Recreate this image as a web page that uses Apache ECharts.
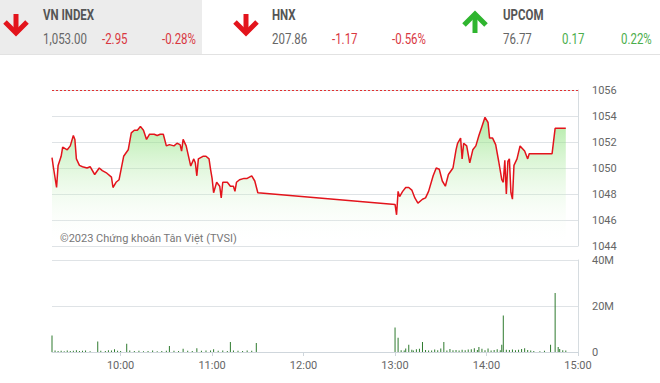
<!DOCTYPE html>
<html><head><meta charset="utf-8">
<script src="https://cdn.jsdelivr.net/npm/echarts@6/dist/echarts.min.js"></script>
<style>html,body{margin:0;padding:0;background:#fff}#c{width:660px;height:383px}</style>
</head><body><div id="c"></div>
<script>
// ---- header data ----
const indexNames = ["VN INDEX", "HNX", "UPCOM"];
const indexValues = ["1,053.00", "207.86", "76.77"];
const indexChanges = ["-2.95", "-1.17", "0.17"];
const indexPercents = ["-0.28%", "-0.56%", "0.22%"];

// ---- price data (VN-Index intraday) ----
const priceTimes = ["09:15","09:16","09:18","09:19","09:21","09:22","09:25","09:27","09:29","09:30","09:31","09:33","09:35","09:38","09:40","09:43","09:46","09:48","09:51","09:54","09:55","09:57","09:59","10:02","10:05","10:07","10:09","10:11","10:13","10:15","10:17","10:19","10:22","10:24","10:26","10:28","10:30","10:32","10:35","10:37","10:39","10:40","10:41","10:43","10:46","10:48","10:49","10:50","10:51","10:54","10:56","10:58","10:59","11:00","11:01","11:03","11:05","11:06","11:07","11:10","11:12","11:14","11:15","11:16","11:18","11:21","11:23","11:26","11:28","11:30","13:00","13:01","13:02","13:03","13:05","13:07","13:09","13:11","13:13","13:15","13:18","13:20","13:22","13:25","13:27","13:29","13:31","13:33","13:35","13:38","13:40","13:41","13:43","13:44","13:45","13:47","13:49","13:51","13:53","13:55","13:57","13:59","14:01","14:02","14:04","14:06","14:08","14:10","14:11","14:12","14:13","14:14","14:15","14:16","14:17","14:18","14:20","14:22","14:25","14:27","14:28","14:43","14:45","14:52"];
const priceValues = [1050.8,1050.0,1048.5,1050.2,1050.9,1051.6,1051.4,1051.7,1052.5,1052.2,1050.7,1050.2,1050.1,1050.0,1050.1,1049.5,1050.0,1049.8,1049.6,1049.3,1048.5,1048.9,1049.1,1050.9,1051.4,1052.7,1052.9,1052.9,1053.2,1052.9,1052.2,1052.6,1052.6,1052.5,1052.6,1052.6,1051.7,1051.8,1051.7,1051.9,1051.8,1051.3,1052.2,1051.7,1050.15,1050.7,1050.4,1049.4,1050.7,1050.9,1050.9,1050.7,1049.9,1049.2,1048.1,1048.9,1048.6,1047.7,1048.9,1048.9,1048.6,1048.6,1048.2,1048.9,1049.1,1049.2,1049.2,1049.4,1049.0,1048.1,1047.2,1046.4,1048.2,1047.8,1048.2,1048.5,1048.5,1048.3,1047.7,1047.3,1047.6,1047.7,1048.2,1049.4,1050.0,1049.9,1049.0,1048.6,1049.5,1050.0,1051.4,1051.9,1052.3,1050.7,1051.9,1051.7,1050.4,1051.4,1051.7,1052.5,1053.2,1053.9,1053.5,1052.3,1052.3,1051.8,1050.5,1049.1,1048.9,1050.6,1048.0,1050.5,1050.7,1048.1,1047.6,1050.2,1050.7,1051.7,1051.3,1050.7,1051.1,1051.1,1053.05,1053.05];
const prevClose = 1055.95;

// ---- volume data (millions of shares) ----
const volTimes = ["09:15","09:17","09:19","09:21","09:23","09:25","09:27","09:29","09:31","09:33","09:35","09:37","09:40","09:45","09:47","09:50","09:52","09:54","09:56","09:58","10:00","10:04","10:06","10:09","10:12","10:15","10:18","10:21","10:24","10:27","10:30","10:32","10:35","10:38","10:41","10:44","10:47","10:50","10:53","10:56","10:59","11:01","11:04","11:07","11:10","11:12","11:14","11:17","11:20","11:23","11:26","11:29","13:00","13:02","13:04","13:06","13:07","13:09","13:11","13:12","13:14","13:16","13:18","13:20","13:22","13:24","13:26","13:28","13:30","13:32","13:34","13:36","13:38","13:40","13:42","13:44","13:46","13:48","13:50","13:52","13:54","13:55","13:57","13:59","14:01","14:03","14:05","14:07","14:09","14:10","14:11","14:13","14:15","14:17","14:19","14:21","14:23","14:25","14:27","14:29","14:31","14:35","14:38","14:42","14:45","14:47","14:48","14:50","14:52"];
const volValues = [7.2,0.6,0.4,0.5,0.3,0.6,0.4,0.5,0.8,0.4,0.5,0.6,0.3,4.6,0.5,0.4,0.8,0.6,1.2,0.5,0.4,3.6,0.6,0.4,0.5,0.3,0.4,0.6,0.3,0.4,0.5,2.6,0.5,0.4,1.4,0.5,0.4,1.6,0.5,0.7,0.6,1.2,0.5,0.6,0.4,4.3,0.6,0.5,0.4,0.6,0.5,3.9,10.6,6.2,0.8,0.6,1.5,3.2,1.0,0.7,1.2,1.4,4.4,0.9,0.7,0.6,1.1,0.8,1.5,4.4,0.6,1.3,0.8,0.9,0.7,1.0,0.8,1.1,1.2,1.6,0.9,2.2,1.4,0.8,1.5,0.7,0.9,1.2,0.8,3.2,15.9,1.0,0.9,1.1,0.8,1.0,1.3,1.6,0.9,0.6,0.4,0.3,0.5,3.2,25.7,2.2,1.3,0.8,0.6];

// ---- axes ----
const timeTicks = ["10:00","11:00","12:00","13:00","14:00","15:00"];
const priceTicks = [1044,1046,1048,1050,1052,1054,1056];
const volTicks = [0,20,40];
const timeStart = "09:15", timeEnd = "15:00";
const watermark = "©2023 Chứng khoán Tân Việt (TVSI)";

function toMin(s){const p=s.split(":");return (+p[0])*60+(+p[1]);}
function fmtMin(m){const h=Math.floor(m/60),mm=m%60;return (h<10?"0":"")+h+":"+(mm<10?"0":"")+mm;}

const priceData = priceTimes.map((t,i)=>[toMin(t),priceValues[i]]);
const volData = volTimes.map((t,i)=>[toMin(t),volValues[i]]);
const tickMins = timeTicks.map(toMin);

const FONT = "Roboto, 'Noto Sans', sans-serif";
const RED = "#e3141c", GREEN = "#2fb52f";

function arrow(cx, top, bottom, up, color){
  const w = 11, h = 11;
  const pts = up ? [[cx-w,top+h],[cx,top],[cx+w,top+h]] : [[cx-w,bottom-h],[cx,bottom],[cx+w,bottom-h]];
  return [
    {type:'polyline', shape:{points:[[cx, up?top+3:top],[cx, up?bottom:bottom-3]]}, style:{stroke:color, lineWidth:5, fill:null}},
    {type:'polyline', shape:{points:pts}, style:{stroke:color, lineWidth:5, fill:null, lineJoin:'miter'}}
  ];
}
function txt(str, x, y, fill, bold){
  return {type:'text', x:x, y:y, scaleX:0.82, style:{text:str, x:0, y:0, fill:fill, fontSize:14, fontWeight:bold?'bold':'normal', fontFamily:FONT, verticalAlign:'middle'}};
}

const headerX = [43, 272, 503];
const chgX = [102, 332, 562];
const pctX = [162, 392, 621];
const arrowX = [16, 246, 475];
const graphics = [
  {type:'rect', shape:{x:0,y:0,width:202,height:54}, style:{fill:'#ececec'}, silent:true},
  {type:'line', shape:{x1:0,y1:54.5,x2:660,y2:54.5}, style:{stroke:'#e2e2e2', lineWidth:1}}
];
for (let i=0;i<3;i++){
  const up = !indexChanges[i].startsWith("-");
  const col = up ? GREEN : RED;
  graphics.push(...arrow(arrowX[i], 14, 33, up, col));
  const tcol = up ? '#4cae4c' : '#d9373f';
  graphics.push(txt(indexNames[i], headerX[i], 15, '#555', true));
  graphics.push(txt(indexValues[i], headerX[i], 39, '#666', false));
  graphics.push(txt(indexChanges[i], chgX[i], 39, tcol, false));
  graphics.push(txt(indexPercents[i], pctX[i], 39, tcol, false));
}
graphics.push({type:'text', z:10, style:{text:watermark, x:60, y:238, fill:'#777', fontSize:11, fontFamily:FONT, verticalAlign:'middle'}});

const chart = echarts.init(document.getElementById('c'), null, {renderer:'svg'});
chart.setOption({
  animation:false,
  graphic: graphics,
  grid:[
    {left:52, right:82, top:90, height:156},
    {left:52, right:82, top:260, height:92}
  ],
  xAxis:[
    {gridIndex:0, type:'value', min:toMin(timeStart), max:toMin(timeEnd), axisLine:{show:false}, axisTick:{show:false}, axisLabel:{show:false}, splitLine:{show:false}},
    {gridIndex:1, type:'value', min:toMin(timeStart), max:toMin(timeEnd),
      axisLine:{show:true, onZero:false, lineStyle:{color:'#cfd6dc'}},
      axisTick:{show:true, customValues:tickMins, length:4, lineStyle:{color:'#cfd6dc'}},
      axisLabel:{customValues:tickMins, formatter:v=>fmtMin(v), color:'#666', fontSize:11, fontFamily:FONT, margin:8},
      splitLine:{show:false}}
  ],
  yAxis:[
    {gridIndex:0, type:'value', position:'right', min:priceTicks[0], max:priceTicks[priceTicks.length-1], interval:2,
      axisLine:{show:true, lineStyle:{color:'#d6dce0'}}, axisTick:{show:false},
      axisLabel:{color:'#666', fontSize:11, fontFamily:FONT, margin:14, formatter:v=>String(v)},
      splitLine:{lineStyle:{color:'#dfe3e6'}}},
    {gridIndex:1, type:'value', position:'right', min:volTicks[0], max:volTicks[volTicks.length-1], interval:20,
      axisLine:{show:true, lineStyle:{color:'#d6dce0'}}, axisTick:{show:false},
      axisLabel:{color:'#666', fontSize:11, fontFamily:FONT, margin:14, formatter:v=>v===0?'0':v+'M'},
      splitLine:{lineStyle:{color:'#dfe3e6'}}}
  ],
  series:[
    {type:'line', xAxisIndex:0, yAxisIndex:0, data:priceData, showSymbol:false, symbol:'none',
      lineStyle:{color:RED, width:1.5},
      areaStyle:{color:new echarts.graphic.LinearGradient(0,0,0,1,[{offset:0,color:'rgba(120,220,100,0.85)'},{offset:1,color:'rgba(255,255,255,0.0)'}])},
      markLine:{silent:true, symbol:'none', label:{show:false}, lineStyle:{color:'#e03030', type:[2,2], width:1}, data:[{yAxis:prevClose}]}},
    {type:'bar', xAxisIndex:1, yAxisIndex:1, data:volData, barWidth:1, itemStyle:{color:'#2e7a2e'}}
  ]
});
</script></body></html>
